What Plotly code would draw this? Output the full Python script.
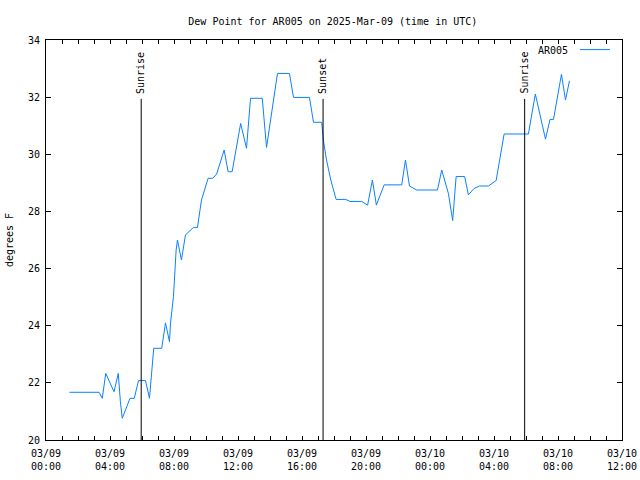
import plotly.graph_objects as go

# Dew point observations (UTC)
times = [
    "2025-03-09 01:28", "2025-03-09 03:19", "2025-03-09 03:31", "2025-03-09 03:44",
    "2025-03-09 04:15", "2025-03-09 04:31", "2025-03-09 04:39", "2025-03-09 04:46",
    "2025-03-09 05:15", "2025-03-09 05:31", "2025-03-09 05:47", "2025-03-09 06:13",
    "2025-03-09 06:28", "2025-03-09 06:34", "2025-03-09 06:44", "2025-03-09 07:14",
    "2025-03-09 07:28", "2025-03-09 07:43", "2025-03-09 07:47", "2025-03-09 07:58",
    "2025-03-09 08:03", "2025-03-09 08:08", "2025-03-09 08:13", "2025-03-09 08:28",
    "2025-03-09 08:43", "2025-03-09 09:13", "2025-03-09 09:28", "2025-03-09 09:43",
    "2025-03-09 10:08", "2025-03-09 10:25", "2025-03-09 10:40", "2025-03-09 11:08",
    "2025-03-09 11:23", "2025-03-09 11:38", "2025-03-09 12:10", "2025-03-09 12:32",
    "2025-03-09 12:47", "2025-03-09 13:31", "2025-03-09 13:47", "2025-03-09 14:28",
    "2025-03-09 15:13", "2025-03-09 15:28", "2025-03-09 16:28", "2025-03-09 16:43",
    "2025-03-09 17:14", "2025-03-09 17:20", "2025-03-09 17:32", "2025-03-09 17:48",
    "2025-03-09 18:08", "2025-03-09 18:44", "2025-03-09 19:00", "2025-03-09 19:44",
    "2025-03-09 20:06", "2025-03-09 20:24", "2025-03-09 20:39", "2025-03-09 21:08",
    "2025-03-09 22:14", "2025-03-09 22:28", "2025-03-09 22:43", "2025-03-09 23:10",
    "2025-03-10 00:28", "2025-03-10 00:44", "2025-03-10 01:09", "2025-03-10 01:25",
    "2025-03-10 01:38", "2025-03-10 02:10", "2025-03-10 02:24", "2025-03-10 02:45",
    "2025-03-10 03:05", "2025-03-10 03:39", "2025-03-10 04:08", "2025-03-10 04:38",
    "2025-03-10 06:09", "2025-03-10 06:35", "2025-03-10 07:13", "2025-03-10 07:30",
    "2025-03-10 07:43", "2025-03-10 08:13", "2025-03-10 08:28", "2025-03-10 08:43",
]
dewpoint = [
    21.67, 21.67, 21.46, 22.33,
    21.69, 22.33, 21.34, 20.76,
    21.46, 21.46, 22.08, 22.08,
    21.46, 22.10, 23.21, 23.21,
    24.10, 23.44, 24.10, 25.02,
    25.83, 26.65, 27.00, 26.30,
    27.18, 27.44, 27.44, 28.40,
    29.16, 29.16, 29.31, 30.15,
    29.39, 29.39, 31.08, 30.21,
    31.96, 31.96, 30.24, 32.83,
    32.83, 31.99, 31.99, 31.12,
    31.12, 30.50, 29.80, 29.10,
    28.42, 28.42, 28.35, 28.35,
    28.22, 29.10, 28.22, 28.93,
    28.93, 29.80, 28.89, 28.75,
    28.75, 29.45, 28.63, 27.68,
    29.22, 29.22, 28.58, 28.80,
    28.89, 28.89, 29.08, 30.71,
    30.71, 32.11, 30.53, 31.22,
    31.22, 32.80, 31.90, 32.57,
]

event_times = ["2025-03-09 05:57", "2025-03-09 17:19", "2025-03-10 05:55"]
event_labels = ["Sunrise", "Sunset", "Sunrise"]
event_top = 31.94

series_name = "AR005"
title_text = "Dew Point for AR005 on 2025-Mar-09 (time in UTC)"
x_range = ["2025-03-09 00:00", "2025-03-10 12:00"]
y_range = [20, 34]

FONT = "DejaVu Sans Mono"
FS = 10
LINE_COLOR = "#0a80ff"

fig = go.Figure()
fig.add_trace(go.Scatter(
    x=times, y=dewpoint, mode="lines", name=series_name,
    line=dict(color=LINE_COLOR, width=1), showlegend=False,
))

for t, lab in zip(event_times, event_labels):
    fig.add_shape(type="line", xref="x", yref="y", x0=t, x1=t, y0=y_range[0], y1=event_top,
                  line=dict(color="black", width=1))
    fig.add_annotation(x=t, y=event_top, xref="x", yref="y", text=lab, showarrow=False,
                       textangle=-90, xanchor="center", yanchor="bottom", yshift=3,
                       font=dict(family=FONT, size=FS, color="black"))

# legend drawn manually (text left, line sample right, like the reference)
fig.add_annotation(x=0.910, y=0.973, xref="paper", yref="paper", text=series_name,
                   showarrow=False, xanchor="right", yanchor="middle",
                   font=dict(family=FONT, size=FS, color="black"))
fig.add_shape(type="line", xref="paper", yref="paper", x0=0.927, x1=0.979, y0=0.976, y1=0.976,
              line=dict(color=LINE_COLOR, width=1))

fig.update_layout(
    width=640, height=480,
    margin=dict(l=46, r=18, t=40, b=40),
    paper_bgcolor="white", plot_bgcolor="white",
    font=dict(family=FONT, size=FS, color="black"),
    title=dict(text=title_text, x=0.52, xanchor="center", y=0.956, yanchor="middle",
               font=dict(family=FONT, size=FS, color="black")),
    showlegend=False,
)
fig.update_xaxes(
    type="date", range=x_range, dtick=4 * 3600000, tick0="2025-03-09 00:00",
    tickformat="%m/%d<br>%H:%M", ticks="inside", ticklen=4, tickcolor="black",
    ticklabelstandoff=4, automargin=False,
    showline=True, linecolor="black", linewidth=1, mirror="allticks",
    showgrid=False, zeroline=False,
    minor=dict(dtick=3600000, ticks="inside", ticklen=4, tickcolor="black", showgrid=False),
)
fig.update_yaxes(
    range=y_range, dtick=2, ticks="inside", ticklen=5, tickcolor="black",
    automargin=False, ticklabelstandoff=3,
    showline=True, linecolor="black", linewidth=1, mirror="allticks",
    showgrid=False, zeroline=False,
    title=dict(text="degrees F", standoff=12, font=dict(family=FONT, size=FS)),
)

fig.write_html("out.html")
